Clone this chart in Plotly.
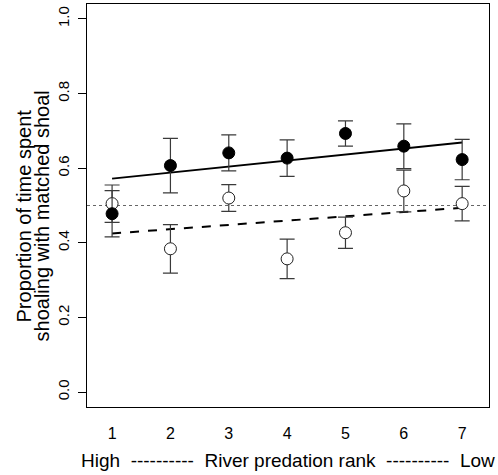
import plotly.graph_objects as go

rank = [1, 2, 3, 4, 5, 6, 7]
tick_labels = ["1", "2", "3", "4", "5", "6", "7"]

# filled circles
filled_mean = [0.478, 0.607, 0.641, 0.627, 0.693, 0.659, 0.623]
filled_err = [0.062, 0.073, 0.048, 0.049, 0.034, 0.060, 0.054]
# open circles
open_mean = [0.505, 0.384, 0.520, 0.357, 0.427, 0.539, 0.505]
open_err = [0.050, 0.065, 0.036, 0.053, 0.042, 0.056, 0.046]

# fitted regression lines (endpoints at rank 1 and 7)
fit_x = [1, 7]
fit_filled = [0.572, 0.669]
fit_open = [0.425, 0.494]

reference_level = 0.5

FONT = "Liberation Sans, Arial, sans-serif"
ERR_COLOR = "#3a3a3a"

fig = go.Figure()

fig.add_shape(type="line", xref="paper", x0=0, x1=1, yref="y",
              y0=reference_level, y1=reference_level,
              line=dict(color="#666666", width=1, dash="dot"), layer="below")

fig.add_trace(go.Scatter(x=fit_x, y=fit_filled, mode="lines",
                         line=dict(color="black", width=2), showlegend=False))
fig.add_trace(go.Scatter(x=fit_x, y=fit_open, mode="lines",
                         line=dict(color="black", width=2, dash="dash"), showlegend=False))

fig.add_trace(go.Scatter(
    x=rank, y=open_mean, mode="markers",
    marker=dict(symbol="circle", size=12, color="white",
                line=dict(color="#222222", width=1)),
    error_y=dict(type="data", array=open_err, visible=True,
                 color=ERR_COLOR, thickness=1.2, width=7.5),
    showlegend=False))

fig.add_trace(go.Scatter(
    x=rank, y=filled_mean, mode="markers",
    marker=dict(symbol="circle", size=12, color="black",
                line=dict(color="black", width=1)),
    error_y=dict(type="data", array=filled_err, visible=True,
                 color=ERR_COLOR, thickness=1.2, width=7.5),
    showlegend=False))

fig.update_layout(
    width=498, height=475,
    margin=dict(l=87, r=9, t=4, b=68, autoexpand=False),
    paper_bgcolor="white", plot_bgcolor="white",
    font=dict(family=FONT, size=15, color="black"),
    xaxis=dict(range=[0.57, 7.46], tickmode="array", tickvals=rank,
               ticktext=tick_labels, ticks="", showgrid=False, zeroline=False,
               showline=True, linecolor="black", linewidth=1, mirror=True,
               tickfont=dict(size=16), ticklabelstandoff=12, automargin=False),
    yaxis=dict(range=[-0.04, 1.04], tickmode="array",
               tickvals=[0, 0.2, 0.4, 0.6, 0.8, 1.0], tickformat=".1f",
               ticks="outside", ticklen=8, tickcolor="black", tickangle=-90,
               showgrid=False, zeroline=False,
               showline=True, linecolor="black", linewidth=1, mirror=True,
               tickfont=dict(size=15), ticklabelstandoff=3, automargin=False),
    annotations=[
        dict(text="Proportion of time spent",
             xref="paper", yref="paper", x=0, xshift=-63.5, y=0.474,
             xanchor="center", yanchor="middle", textangle=-90,
             showarrow=False, font=dict(size=20)),
        dict(text="shoaling with matched shoal",
             xref="paper", yref="paper", x=0, xshift=-45.5, y=0.474,
             xanchor="center", yanchor="middle", textangle=-90,
             showarrow=False, font=dict(size=20)),
        dict(text="High  ----------  River predation rank  ----------  Low",
             xref="paper", yref="paper", x=0.5, y=0, yshift=-53,
             xanchor="center", yanchor="middle", showarrow=False,
             font=dict(size=19)),
    ],
)

fig.write_html("out.html", config={"displayModeBar": False},
               post_script="document.body.style.margin='0px';document.body.style.padding='0px';")
